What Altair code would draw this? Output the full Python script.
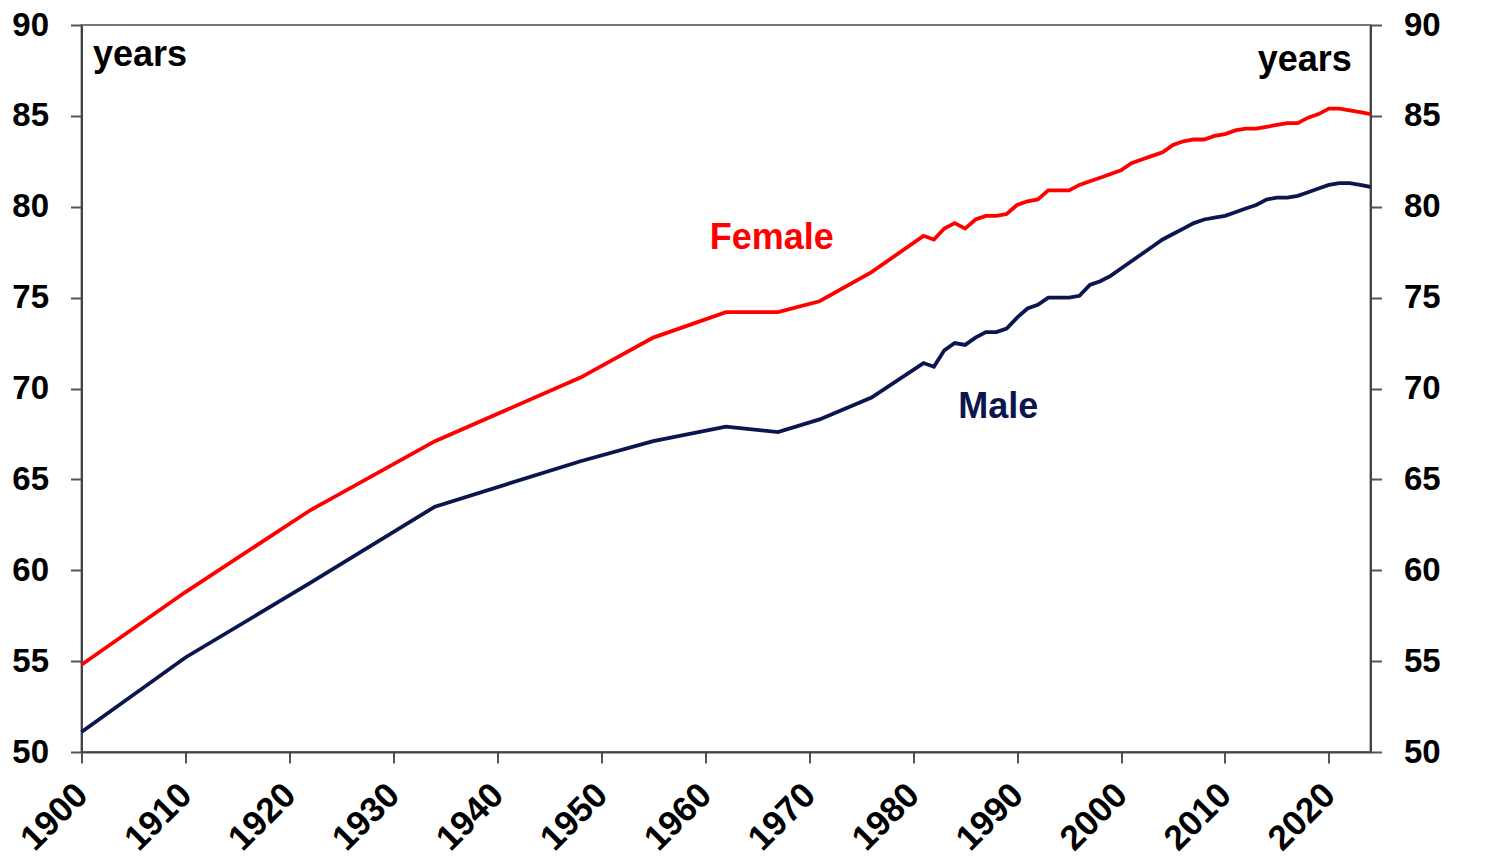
import altair as alt
import pandas as pd

years = [1900, 1910, 1922, 1934, 1948, 1955, 1962, 1967, 1971, 1976,
         1981, 1982, 1983, 1984, 1985, 1986, 1987, 1988, 1989, 1990,
         1991, 1992, 1993, 1994, 1995, 1996, 1997, 1998, 1999, 2000,
         2001, 2002, 2003, 2004, 2005, 2006, 2007, 2008, 2009, 2010,
         2011, 2012, 2013, 2014, 2015, 2016, 2017, 2018, 2019, 2020,
         2021, 2022, 2023, 2024]

female = [54.8, 58.8, 63.3, 67.1, 70.6, 72.8, 74.2, 74.2, 74.8, 76.4,
          78.4, 78.2, 78.8, 79.1, 78.8, 79.3, 79.5, 79.5, 79.6, 80.1,
          80.3, 80.4, 80.9, 80.9, 80.9, 81.2, 81.4, 81.6, 81.8, 82.0,
          82.4, 82.6, 82.8, 83.0, 83.4, 83.6, 83.7, 83.7, 83.9, 84.0,
          84.2, 84.3, 84.3, 84.4, 84.5, 84.6, 84.6, 84.9, 85.1, 85.4,
          85.4, 85.3, 85.2, 85.1]

male = [51.1, 55.2, 59.3, 63.5, 66.0, 67.1, 67.9, 67.6, 68.3, 69.5,
        71.4, 71.2, 72.1, 72.5, 72.4, 72.8, 73.1, 73.1, 73.3, 73.9,
        74.4, 74.6, 75.0, 75.0, 75.0, 75.1, 75.7, 75.9, 76.2, 76.6,
        77.0, 77.4, 77.8, 78.2, 78.5, 78.8, 79.1, 79.3, 79.4, 79.5,
        79.7, 79.9, 80.1, 80.4, 80.5, 80.5, 80.6, 80.8, 81.0, 81.2,
        81.3, 81.3, 81.2, 81.1]

x_ticks = [1900, 1910, 1920, 1930, 1940, 1950, 1960, 1970, 1980, 1990, 2000, 2010, 2020]
y_ticks = [50, 55, 60, 65, 70, 75, 80, 85, 90]

series_names = ["Female", "Male"]
series_colors = ["#ff0000", "#0b1650"]

rows = []
for y, f, m in zip(years, female, male):
    rows.append({"year": y, "value": f, "series": "Female"})
    rows.append({"year": y, "value": m, "series": "Male"})
df = pd.DataFrame(rows)

FONT = "Liberation Sans"

xscale = alt.Scale(domain=[1900, 2024], nice=False, zero=False)
yscale = alt.Scale(domain=[50, 90], nice=False, zero=False)


def xenc():
    return alt.X("year:Q", scale=xscale,
                 axis=alt.Axis(values=x_ticks, format="d", labelAngle=315, labelAlign="right",
                               labelBaseline="middle", labelPadding=26, labelFontSize=35,
                               title=None, grid=False))


lines = alt.Chart(df).mark_line(strokeWidth=3.8).encode(
    x=xenc(),
    y=alt.Y("value:Q", scale=yscale,
            axis=alt.Axis(values=y_ticks, orient="left", title=None, grid=False, labelPadding=22)),
    color=alt.Color("series:N", scale=alt.Scale(domain=series_names, range=series_colors), legend=None),
)

# invisible layer carrying the right-hand axis
right = alt.Chart(df).mark_line(opacity=0).encode(
    x=xenc(),
    y=alt.Y("value:Q", scale=yscale,
            axis=alt.Axis(values=y_ticks, orient="right", title=None, grid=False, labelPadding=22)),
    detail="series:N",
)

ann = pd.DataFrame({
    "year": [1966.4, 1988.2],
    "value": [78.3, 69.0],
    "text": ["Female", "Male"],
})
ann_text = alt.Chart(ann).mark_text(font=FONT, fontWeight="bold", fontSize=36, baseline="middle").encode(
    x=xenc(),
    y=alt.Y("value:Q", scale=yscale, axis=None),
    text="text:N",
    color=alt.Color("text:N", scale=alt.Scale(domain=series_names, range=series_colors), legend=None),
)

units = pd.DataFrame({"year": [1901.1, 2022.2], "value": [88.35, 88.07],
                      "text": ["years", "years"], "side": ["left", "right"]})
ul = alt.Chart(units).transform_filter(alt.datum.side == "left").mark_text(
    font=FONT, fontWeight="bold", fontSize=36, align="left", baseline="middle", color="black"
).encode(
    x=xenc(),
    y=alt.Y("value:Q", scale=yscale, axis=None),
    text="text:N",
)
ur = alt.Chart(units).transform_filter(alt.datum.side == "right").mark_text(
    font=FONT, fontWeight="bold", fontSize=36, align="right", baseline="middle", color="black"
).encode(
    x=xenc(),
    y=alt.Y("value:Q", scale=yscale, axis=None),
    text="text:N",
)

chart = alt.layer(lines, right, ann_text, ul, ur).resolve_scale(
    y="independent", color="independent"
).properties(
    width=1289, height=727,
    autosize=alt.AutoSizeParams(type="none"),
    padding={"left": 73.5, "top": 17, "right": 100, "bottom": 115},
    background="white",
).configure_view(
    stroke="#777777", strokeWidth=2
).configure_axis(
    labelFont=FONT, labelFontWeight="bold", labelFontSize=33, labelColor="black",
    tickColor="#555555", tickSize=11, tickWidth=2,
    domainColor="#444444", domainWidth=2,
)

chart.save("out.html", embed_options={"renderer": "svg", "actions": False})
